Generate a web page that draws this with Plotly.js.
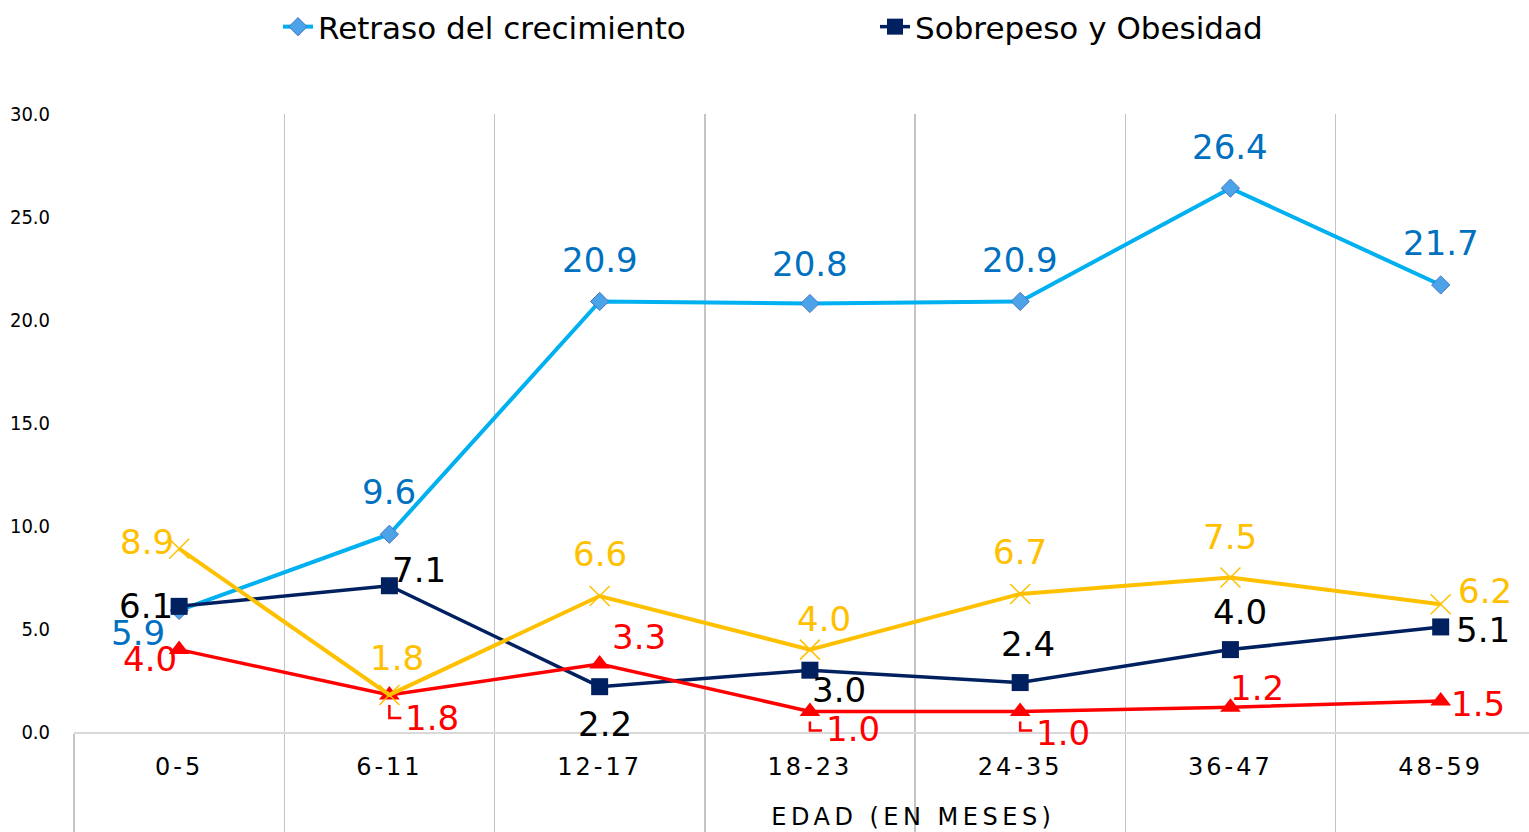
<!DOCTYPE html>
<html>
<head>
<meta charset="utf-8">
<script src="https://cdn.plot.ly/plotly-3.0.1.min.js"></script>
<style>
  html, body { margin: 0; padding: 0; background: #fff; }
  #chart { width: 1529px; height: 832px; }
  .xtick text { letter-spacing: 3px; }
  .annotation[data-index="0"] text { letter-spacing: 4.5px; }
</style>
</head>
<body>
<div id="chart"></div>
<script>
// Age groups (months)
const ageGroups = ['0-5', '6-11', '12-17', '18-23', '24-35', '36-47', '48-59'];

// Series values (%)
const stunting = [5.9, 9.6, 20.9, 20.8, 20.9, 26.4, 21.7];
const overweight = [6.1, 7.1, 2.2, 3.0, 2.4, 4.0, 5.1];
const series3 = [8.9, 1.8, 6.6, 4.0, 6.7, 7.5, 6.2];
const series4 = [4.0, 1.8, 3.3, 1.0, 1.0, 1.2, 1.5];

// Label offsets in px from the point [dx, dy], dy down
const stuntingOff = [[-41, 23], [0, -42], [0, -41], [0, -40], [0, -41], [0, -41], [0, -42]];
const overweightOff = [[-33, 0], [30, -16], [5, 37], [29, 20], [8, -39], [10, -38], [42, 3]];
const series3Off = [[-32, -7], [8, -37], [0, -42], [14, -31], [0, -42], [0, -41], [44, -13]];
const series4Off = [[-29, 9], [43, 23], [39, -27], [43, 18], [43, 22], [27, -19], [37, 3]];
// red leader lines (index, depth in px)
const leaders = [[1, 23], [3, 19], [4, 19]];

const labelFont = 'DejaVu Sans, sans-serif';

const traces = [
    {
        x: ageGroups, y: stunting, name: 'Retraso del crecimiento',
        type: 'scatter', mode: 'lines+markers',
        line: { color: '#00B0F0', width: 4 },
        marker: { symbol: 'diamond', size: 14, color: '#4DA3E8', line: { color: '#4472C4', width: 1 } }
    },
    {
        x: ageGroups, y: overweight, name: 'Sobrepeso y Obesidad',
        type: 'scatter', mode: 'lines+markers',
        line: { color: '#002060', width: 3.5 },
        marker: { symbol: 'square', size: 17, color: '#002060' }
    },
    {
        x: ageGroups, y: series4, name: 'Serie 4', showlegend: false,
        type: 'scatter', mode: 'lines+markers',
        line: { color: '#FF0000', width: 3.5 },
        marker: { symbol: 'triangle-up', size: 18, color: '#FF0000' }
    },
    {
        x: ageGroups, y: series3, name: 'Serie 3', showlegend: false,
        type: 'scatter', mode: 'lines+markers',
        line: { color: '#FFC000', width: 4 },
        marker: { symbol: 'x-thin-open', size: 20, color: '#FFC000', line: { color: '#FFC000', width: 1.5 } }
    }
];

// Axis title (kept as annotation 0 so CSS can space its letters)
const annotations = [{
    xref: 'paper', yref: 'paper', x: 0.577, y: -0.1375,
    xanchor: 'center', yanchor: 'middle', showarrow: false,
    text: 'EDAD (EN MESES)',
    font: { family: labelFont, size: 24, color: '#000' }
}];

function addLabels(values, offsets, color) {
    values.forEach((v, i) => {
        annotations.push({
            x: ageGroups[i], y: v, xref: 'x', yref: 'y',
            text: v.toFixed(1), showarrow: false,
            xanchor: 'center', yanchor: 'middle',
            xshift: offsets[i][0], yshift: -offsets[i][1],
            font: { family: labelFont, size: 34, color: color }
        });
    });
}
addLabels(stunting, stuntingOff, '#0070C0');
addLabels(overweight, overweightOff, '#000000');
addLabels(series3, series3Off, '#FFC000');
addLabels(series4, series4Off, '#FF0000');

const shapes = leaders.map(([i, depth]) => ({
    type: 'path', xref: 'x', yref: 'y',
    xsizemode: 'pixel', ysizemode: 'pixel',
    xanchor: ageGroups[i], yanchor: series4[i],
    path: `M0,-10 L0,-${depth} L12,-${depth}`,
    line: { color: '#FF0000', width: 2.5 }
}));

const layout = {
    width: 1529, height: 832,
    margin: { l: 74, r: 0, t: 114, b: 100 },
    paper_bgcolor: '#fff', plot_bgcolor: '#fff',
    font: { family: labelFont, color: '#000' },
    showlegend: true,
    legend: {
        orientation: 'h', xref: 'container', yref: 'container',
        x: 278 / 1529, xanchor: 'left', y: 1 - 27 / 832, yanchor: 'middle',
        font: { family: labelFont, size: 31, color: '#000' },
        entrywidth: 552, bgcolor: 'rgba(0,0,0,0)'
    },
    xaxis: {
        type: 'category', range: [-0.5, 6.42],
        tickson: 'boundaries', ticks: 'outside', ticklen: 100,
        tickwidth: 1.5, tickcolor: '#c4c4c4',
        showgrid: true, gridcolor: '#c4c4c4', gridwidth: 1.5,
        showline: true, linecolor: '#d9d9d9', linewidth: 2,
        ticklabelstandoff: 12,
        tickfont: { family: labelFont, size: 24, color: '#000' },
        zeroline: false, fixedrange: true
    },
    yaxis: {
        range: [0, 30], dtick: 5, tickformat: '.1f',
        showgrid: false, zeroline: false, showline: false,
        ticks: 'outside', ticklen: 19, tickcolor: 'rgba(0,0,0,0)',
        tickfont: { family: 'Liberation Sans Narrow, DejaVu Sans Condensed, sans-serif', size: 20, color: '#000' },
        fixedrange: true
    },
    annotations: annotations,
    shapes: shapes
};

Plotly.newPlot('chart', traces, layout, { displayModeBar: false, staticPlot: true });
</script>
</body>
</html>
